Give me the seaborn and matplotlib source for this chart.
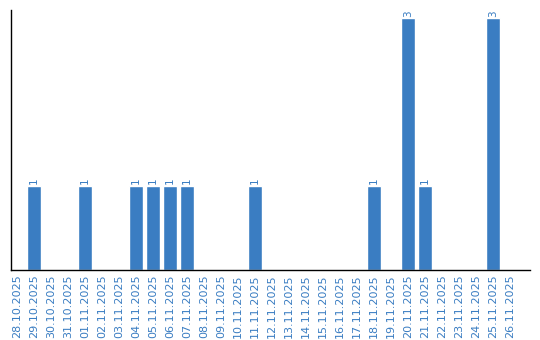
import matplotlib
matplotlib.use("Agg")
import matplotlib.pyplot as plt
import seaborn as sns
import pandas as pd

dates = ["28.10.2025", "29.10.2025", "30.10.2025", "31.10.2025", "01.11.2025",
         "02.11.2025", "03.11.2025", "04.11.2025", "05.11.2025", "06.11.2025",
         "07.11.2025", "08.11.2025", "09.11.2025", "10.11.2025", "11.11.2025",
         "12.11.2025", "13.11.2025", "14.11.2025", "15.11.2025", "16.11.2025",
         "17.11.2025", "18.11.2025", "19.11.2025", "20.11.2025", "21.11.2025",
         "22.11.2025", "23.11.2025", "24.11.2025", "25.11.2025", "26.11.2025"]
counts = [0, 1, 0, 0, 1,
          0, 0, 1, 1, 1,
          1, 0, 0, 0, 1,
          0, 0, 0, 0, 0,
          0, 1, 0, 3, 1,
          0, 0, 0, 3, 0]

df = pd.DataFrame({"date": dates, "count": counts})
color = "#3a7dc2"

sns.set_style("white")
fig = plt.figure(figsize=(5.4, 3.4), dpi=100)
ax = fig.add_axes([11/540, 70/340, 519/540, 260/340])
sns.barplot(data=df, x="date", y="count", color=color, width=0.85,
            saturation=1, ax=ax)

for i, v in enumerate(counts):
    if v > 0:
        ax.text(i, v + 0.02, str(v), rotation=90, ha="center", va="bottom",
                fontsize=7.5, color=color)

ax.set_xlim(-0.35, 30.18)
ax.set_ylim(0, 3.1)
ax.set_xlabel("")
ax.set_ylabel("")
ax.set_yticks([])
ax.tick_params(axis="x", length=0, pad=3, labelsize=8, labelcolor=color,
               rotation=90)
for s in ["top", "right"]:
    ax.spines[s].set_visible(False)
for s in ["left", "bottom"]:
    ax.spines[s].set_color("black")
    ax.spines[s].set_linewidth(1)

fig.savefig("out.png", dpi=100)
